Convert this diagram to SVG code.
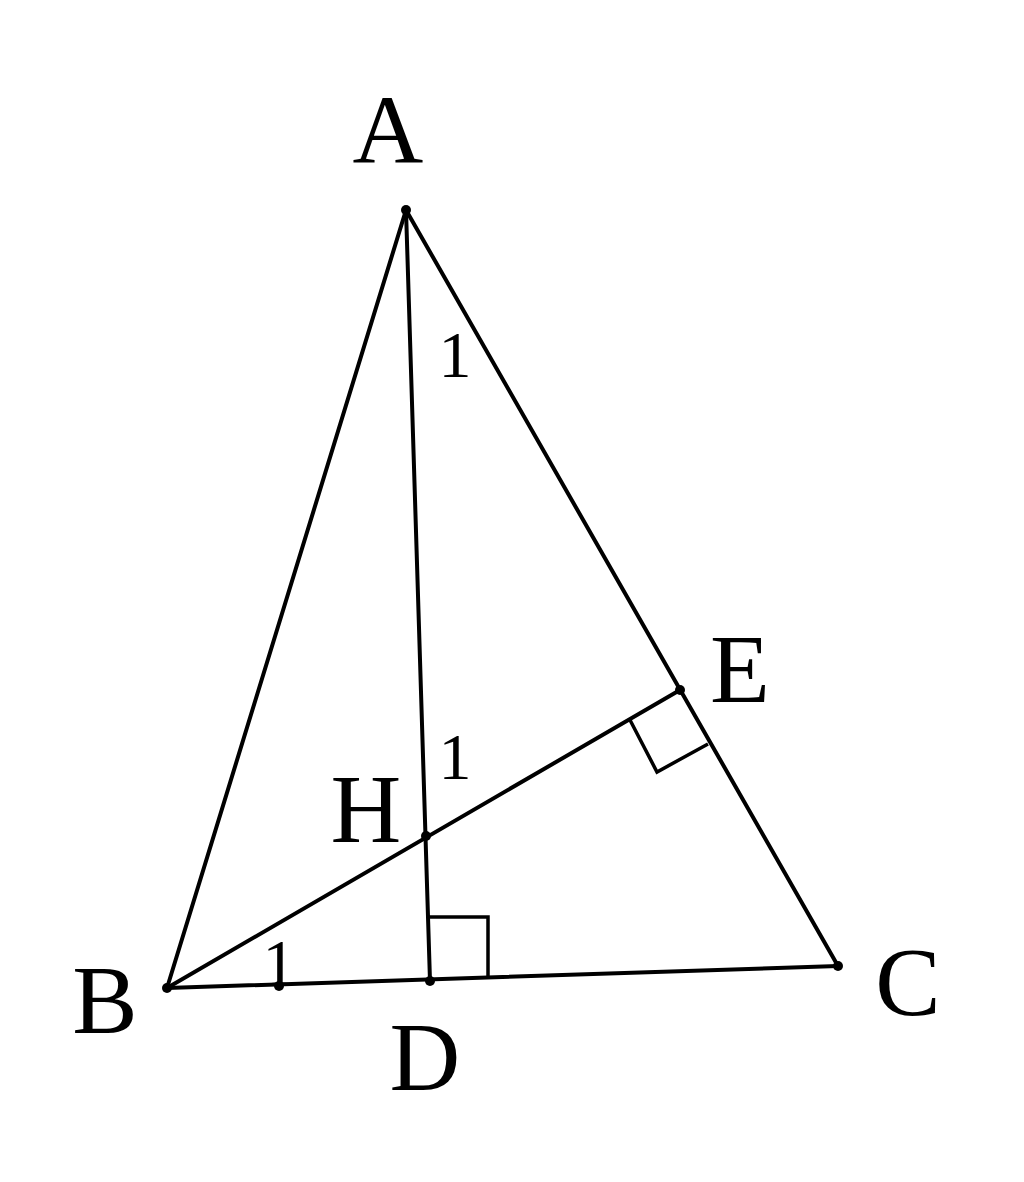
<svg xmlns="http://www.w3.org/2000/svg" width="1024" height="1182" viewBox="0 0 1024 1182">
<style>
.ln{stroke:#000;stroke-width:4;fill:none;stroke-linecap:round;stroke-linejoin:round}
.rt{stroke:#000;stroke-width:3.5;fill:none}
.lb{font-family:"Liberation Serif","Times New Roman",serif;font-size:98px;fill:#000;text-anchor:middle}
.sm{font-family:"Liberation Serif","Times New Roman",serif;font-size:66px;fill:#000;text-anchor:middle}
.pt{fill:#000}
</style>
<rect width="1024" height="1182" fill="#fff"/>
<g id="connectors">
<line class="ln" x1="406" y1="210" x2="167" y2="988"/>
<line class="ln" x1="406" y1="210" x2="838" y2="966"/>
<line class="ln" x1="167" y1="988" x2="838" y2="966"/>
<line class="ln" x1="406" y1="210" x2="430" y2="981"/>
<line class="ln" x1="167" y1="988" x2="680" y2="690"/>
<polyline class="rt" points="428,917 488,917 488,977"/>
<polyline class="rt" points="630,720 657,772 708,744"/>
</g>
<g id="A"><circle class="pt" cx="406" cy="210" r="5"/><text class="lb" x="388" y="162">A</text></g>
<g id="B"><circle class="pt" cx="167" cy="988" r="5"/><text class="lb" x="105" y="1033">B</text></g>
<g id="C"><circle class="pt" cx="838" cy="966" r="5"/><text class="lb" x="908" y="1015">C</text></g>
<g id="D"><circle class="pt" cx="430" cy="981" r="5"/><text class="lb" x="425" y="1090">D</text></g>
<g id="E"><circle class="pt" cx="680" cy="690" r="5"/><text class="lb" x="740" y="702">E</text></g>
<g id="H"><circle class="pt" cx="426" cy="836" r="5"/><text class="lb" x="366" y="842">H</text></g>
<g id="tick"><circle class="pt" cx="279" cy="986" r="5"/></g>
<g id="angles">
<text class="sm" x="455" y="377">1</text>
<text class="sm" x="455" y="779">1</text>
<text class="sm" x="279" y="985">1</text>
</g>
</svg>
